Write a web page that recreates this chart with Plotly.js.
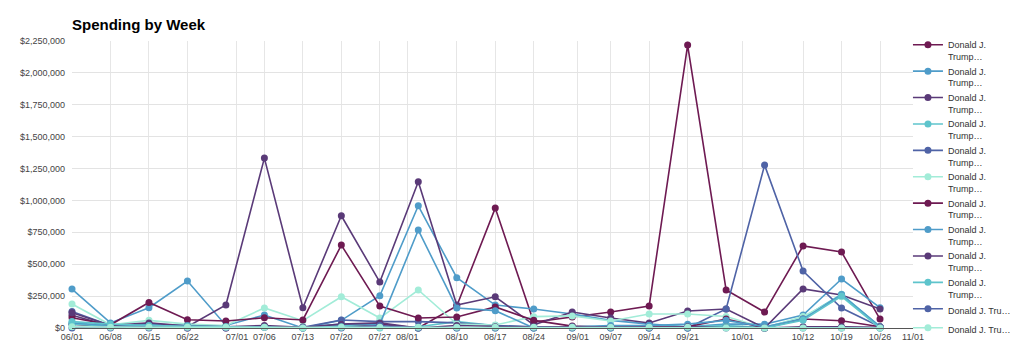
<!DOCTYPE html>
<html>
<head>
<meta charset="utf-8">
<script src="https://cdn.plot.ly/plotly-3.0.1.min.js"></script>
<style>
html,body{margin:0;padding:0;background:#fff;}
#chart{width:1024px;height:356px;}
</style>
</head>
<body>
<div id="chart"></div>
<script>
var weeks = ['2020-06-01','2020-06-08','2020-06-15','2020-06-22','2020-06-29','2020-07-06','2020-07-13','2020-07-20','2020-07-27','2020-08-03','2020-08-10','2020-08-17','2020-08-24','2020-08-31','2020-09-07','2020-09-14','2020-09-21','2020-09-28','2020-10-05','2020-10-12','2020-10-19','2020-10-26'];

var seriesNames = ['Donald J.<br>Trump…','Donald J.<br>Trump…','Donald J.<br>Trump…','Donald J.<br>Trump…','Donald J.<br>Trump…','Donald J.<br>Trump…','Donald J.<br>Trump…','Donald J.<br>Trump…','Donald J.<br>Trump…','Donald J.<br>Trump…','Donald J. Tru…','Donald J. Tru…'];

var s1  = [30000, 10000, 5000, 0, 0, 10000, 0, 10000, 30000, 0, 172000, 940000, 47000, 86000, 125000, 172000, 2218000, 298000, 125000, 643000, 596000, 70000];
var s2  = [305000, 40000, 159000, 368000, 20000, 102000, 0, 60000, 253000, 958000, 394000, 180000, 149000, 110000, 60000, 30000, 10000, 30000, 30000, 102000, 384000, 159000];
var s3  = [100000, 15000, 30000, 10000, 180000, 1332000, 159000, 880000, 360000, 1147000, 180000, 245000, 25000, 125000, 78000, 39000, 133000, 149000, 0, 306000, 259000, 149000];
var s4  = [30000, 15000, 20000, 10000, 10000, 10000, 5000, 20000, 10000, 10000, 50000, 20000, 5000, 10000, 10000, 20000, 10000, 20000, 5000, 80000, 265000, 10000];
var s5  = [130000, 20000, 10000, 5000, 5000, 10000, 5000, 63000, 50000, 50000, 40000, 20000, 10000, 10000, 5000, 10000, 0, 149000, 1277000, 447000, 157000, 10000];
var s6  = [188000, 25000, 60000, 30000, 20000, 157000, 57000, 245000, 78000, 298000, 31000, 24000, 89000, 95000, 55000, 110000, 110000, 90000, 0, 90000, 245000, 0];
var s7  = [80000, 25000, 200000, 65000, 55000, 80000, 63000, 650000, 172000, 78000, 86000, 165000, 60000, 15000, 5000, 10000, 10000, 70000, 0, 70000, 57000, 10000];
var s8  = [40000, 20000, 30000, 20000, 10000, 10000, 5000, 30000, 30000, 768000, 157000, 136000, 0, 10000, 20000, 20000, 30000, 60000, 10000, 70000, 260000, 10000];
var s9  = [120000, 20000, 40000, 15000, 10000, 20000, 5000, 30000, 40000, 0, 20000, 10000, 5000, 10000, 5000, 0, 10000, 10000, 0, 10000, 10000, 5000];
var s10 = [50000, 30000, 20000, 15000, 10000, 5000, 0, 10000, 0, 0, 0, 0, 0, 0, 0, 0, 0, 10000, 0, 60000, 250000, 0];
var s11 = [0, 0, 0, 0, 0, 5000, 0, 0, 20000, 0, 0, 0, 0, 0, 0, 0, 0, 0, 0, 0, 0, 0];
var s12 = [10000, 5000, 5000, 5000, 5000, 5000, 0, 5000, 5000, 5000, 5000, 5000, 5000, 5000, 5000, 5000, 5000, 0, 0, 0, 0, 0];

var tickDates = ['2020-06-01','2020-06-08','2020-06-15','2020-06-22','2020-07-01','2020-07-06','2020-07-13','2020-07-20','2020-07-27','2020-08-01','2020-08-10','2020-08-17','2020-08-24','2020-09-01','2020-09-07','2020-09-14','2020-09-21','2020-10-01','2020-10-12','2020-10-19','2020-10-26','2020-11-01'];
var tickLabels = ['06/01','06/08','06/15','06/22','07/01','07/06','07/13','07/20','07/27','08/01','08/10','08/17','08/24','09/01','09/07','09/14','09/21','10/01','10/12','10/19','10/26','11/01'];
var monthStarts = ['2020-07-01','2020-08-01','2020-09-01','2020-10-01','2020-11-01'];

var palette = ['#6e1a52','#4f9cc9','#5a3a78','#5ec4cc','#4f63a6','#a2ecd8'];

var allSeries = [s1,s2,s3,s4,s5,s6,s7,s8,s9,s10,s11,s12];
var FONT = 'Arial, "Liberation Sans", Helvetica, sans-serif';

var traces = allSeries.map(function(vals, i){
  return {
    type: 'scatter',
    mode: 'lines+markers',
    x: weeks,
    y: vals,
    name: seriesNames[i],
    line: {color: palette[i % 6], width: 1.6},
    marker: {color: palette[i % 6], size: 7},
    cliponaxis: false,
    hoverinfo: 'skip'
  };
});

var layout = {
  width: 1024,
  height: 356,
  paper_bgcolor: '#ffffff',
  plot_bgcolor: '#ffffff',
  margin: {l: 72, r: 111, t: 41, b: 28, autoexpand: false},
  font: {family: FONT, size: 9, color: '#444'},
  title: {
    text: '<b>Spending by Week</b>',
    font: {family: FONT, size: 15, color: '#000'},
    x: 0, xref: 'paper', xanchor: 'left',
    y: 0.93, yref: 'container', yanchor: 'middle'
  },
  showlegend: true,
  legend: {
    x: 0.994, xanchor: 'left', y: 1.03, yanchor: 'top',
    font: {family: FONT, size: 9, color: '#333'},
    valign: 'top',
    itemwidth: 30,
    tracegroupgap: 0,
    maxheight: 356,
    bgcolor: 'rgba(0,0,0,0)'
  },
  xaxis: {
    type: 'date',
    range: ['2020-06-01', '2020-11-01'],
    tickmode: 'array',
    tickvals: tickDates,
    ticktext: tickLabels,
    showgrid: true,
    gridcolor: '#e6e6e6',
    gridwidth: 1,
    showline: true,
    linecolor: '#555',
    linewidth: 1,
    ticks: '',
    tickfont: {family: FONT, size: 9, color: '#444'},
    zeroline: false,
    fixedrange: true
  },
  xaxis2: {
    type: 'date',
    overlaying: 'x',
    matches: 'x',
    range: ['2020-06-01', '2020-11-01'],
    tickmode: 'array',
    tickvals: monthStarts,
    showticklabels: false,
    showgrid: true,
    gridcolor: '#d2d2d2',
    gridwidth: 1.5,
    ticks: '',
    showline: false,
    zeroline: false
  },
  yaxis: {
    range: [0, 2250000],
    dtick: 250000,
    tick0: 0,
    tickprefix: '$',
    tickformat: ',d',
    showgrid: true,
    gridcolor: '#e3e3e3',
    gridwidth: 1,
    zeroline: false,
    showline: false,
    ticks: '',
    ticklabelstandoff: 6,
    tickfont: {family: FONT, size: 9, color: '#444'},
    fixedrange: true
  }
};

Plotly.newPlot('chart', traces, layout, {displayModeBar: false, staticPlot: true});
</script>
</body>
</html>
